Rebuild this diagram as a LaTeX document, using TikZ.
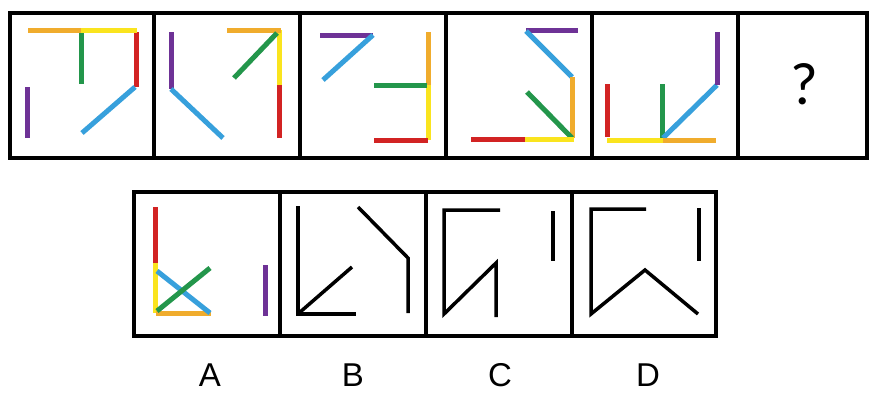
\documentclass[tikz,border=0pt]{standalone}
\usepackage{fontspec}
\newfontfamily\qfont{Carlito}
\newfontfamily\lfont{Liberation Sans}
\definecolor{cY}{RGB}{250,228,30}
\definecolor{cO}{RGB}{240,172,45}
\definecolor{cG}{RGB}{35,150,75}
\definecolor{cR}{RGB}{210,35,35}
\definecolor{cB}{RGB}{55,160,220}
\definecolor{cP}{RGB}{110,50,150}
\begin{document}
\begin{tikzpicture}[x=1pt,y=-1pt,
  frame/.style={line width=4pt,black},
  stick/.style={line width=5pt,line cap=butt},
  blk/.style={line width=3.5pt,black,line join=miter},
  lbl/.style={font=\lfont\fontsize{33}{33}\selectfont,anchor=base,inner sep=0pt,text depth=0pt}]
\useasboundingbox[fill=white] (0,0) rectangle (876,392);
% frames
\draw[frame] (9.5,13) rectangle (866.5,158);
\foreach \x in {154,300,446,592,738} \draw[frame] (\x,13) -- (\x,158);
\draw[frame] (134,192) rectangle (716,336);
\foreach \x in {280,426,572} \draw[frame] (\x,192) -- (\x,336);
% cell 1
\draw[stick,cG] (81,30) -- (81,84);
\draw[stick,cR] (136,32) -- (136,87);
\draw[stick,cB] (135,87) -- (82,133);
\draw[stick,cP] (27,87) -- (27,138);
\draw[stick,cO] (28,30) -- (81,30);
\draw[stick,cY] (81,30) -- (137,30);
% cell 2
\draw[stick,cP] (171,32) -- (171,89);
\draw[stick,cB] (171,89) -- (223,138);
\draw[stick,cY] (279,30) -- (279,85);
\draw[stick,cR] (279,85) -- (279,138);
\draw[stick,cO] (227,30) -- (281,30);
\draw[stick,cG] (277,33) -- (234,78);
% cell 3
\draw[stick,cP] (320,35) -- (373,35);
\draw[stick,cB] (373,35) -- (323,80);
\draw[stick,cO] (428,32) -- (428,85);
\draw[stick,cY] (428,85) -- (428,140);
\draw[stick,cG] (374,85) -- (427,85);
\draw[stick,cR] (374,140) -- (428,140);
% cell 4
\draw[stick,cP] (526,30) -- (578,30);
\draw[stick,cB] (526,31) -- (572,77);
\draw[stick,cO] (572,77) -- (572,138);
\draw[stick,cG] (527,92) -- (572,138);
\draw[stick,cR] (471,139) -- (525,139);
\draw[stick,cY] (525,139) -- (574,139);
% cell 5
\draw[stick,cR] (607,84) -- (607,137);
\draw[stick,cG] (662,84) -- (662,138);
\draw[stick,cB] (663,138) -- (717,85);
\draw[stick,cP] (717,32) -- (717,85);
\draw[stick,cY] (607,140) -- (663,140);
\draw[stick,cO] (663,140) -- (716,140);
% cell 6
\node (q) at (804,84) {\qfont\fontsize{60}{60}\selectfont ?};
% option A
\draw[stick,cR] (155,207) -- (155,263);
\draw[stick,cY] (155,263) -- (155,313);
\draw[stick,cO] (156,313) -- (211,313);
\draw[stick,cB] (157,271) -- (210,313);
\draw[stick,cG] (157,311) -- (210,268);
\draw[stick,cP] (265,265) -- (265,316);
% option B
\draw[blk] (298,206) -- (298,314) -- (356,314);
\draw[blk] (299,313) -- (352,267);
\draw[blk] (358,207) -- (408,258) -- (408,313);
% option C
\draw[blk] (500,210) -- (444,210) -- (444,314) -- (496,263) -- (496,317);
\draw[blk] (553,211) -- (553,261);
% option D
\draw[blk] (646,209) -- (591,209) -- (591,314) -- (645,270) -- (698,314);
\draw[blk] (699,208) -- (699,261);
% labels
\node[lbl] (la) at (210,386) {A};
\node[lbl] (lb) at (353,386) {B};
\node[lbl] (lc) at (500,386) {C};
\node[lbl] (ld) at (648,386) {D};
\end{tikzpicture}
\end{document}
